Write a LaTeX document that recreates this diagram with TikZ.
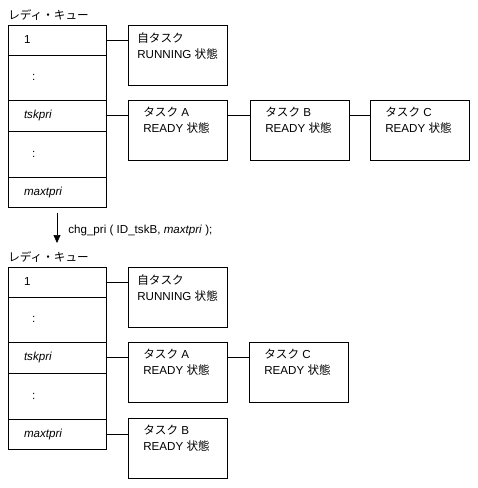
\documentclass[tikz,border=0pt]{standalone}
\usepackage{fontspec}
\setmainfont{Liberation Sans}
\newfontfamily\jp{Noto Sans CJK JP}
\usetikzlibrary{arrows.meta,calc}

\begin{document}
\begin{tikzpicture}[x=1pt, y=-1pt, line width=0.7pt,
    font=\fontsize{11.6}{16}\selectfont,
    qrow/.style={draw, anchor=north west, minimum width=98pt, text width=66pt,
      inner xsep=16pt, inner ysep=0pt, outer sep=0pt, align=left},
    taskbox/.style={draw, anchor=north west, minimum width=99pt, minimum height=60pt,
      inner sep=0pt, outer sep=0pt},
    tasktext/.style={anchor=north west, align=left, inner sep=0pt},
    qtitle/.style={anchor=west, inner sep=0pt}]
  \useasboundingbox (0,0) rectangle (478,488);

  % ready queue before the call
  \node[qtitle] (title1) at (8,15) {\jp レディ・キュー};
  \node[qrow, minimum height=30pt] (q1) at (8,25) {1};
  \node[qrow, minimum height=45pt] (q2) at (q1.south west) {\hspace*{8pt}:};
  \node[qrow, minimum height=31pt] (q3) at (q2.south west) {\textit{tskpri}};
  \node[qrow, minimum height=46pt] (q4) at (q3.south west) {\hspace*{8pt}:};
  \node[qrow, minimum height=30pt] (q5) at (q4.south west) {\textit{maxtpri}};

  \node[taskbox] (self1) at (128,25) {};
  \node[tasktext] at ([shift={(9pt,-7pt)}]self1.north west)
    {{\jp 自タスク}\\RUNNING {\jp 状態}};
  \node[taskbox] (taskA1) at (128,100) {};
  \node[tasktext] at ([shift={(15pt,-7pt)}]taskA1.north west)
    {{\jp タスク} A\\READY {\jp 状態}};
  \node[taskbox] (taskB1) at (250,100) {};
  \node[tasktext] at ([shift={(15pt,-7pt)}]taskB1.north west)
    {{\jp タスク} B\\READY {\jp 状態}};
  \node[taskbox] (taskC1) at (370,100) {};
  \node[tasktext] at ([shift={(15pt,-7pt)}]taskC1.north west)
    {{\jp タスク} C\\READY {\jp 状態}};

  \draw (q1.east) -- (q1.east -| self1.west);
  \draw (q3.east) -- (q3.east -| taskA1.west);
  \draw (q3.east -| taskA1.east) -- (q3.east -| taskB1.west);
  \draw (q3.east -| taskB1.east) -- (q3.east -| taskC1.west);

  % service call
  \coordinate (arrtop) at (57,213);
  \coordinate (arrbot) at (57,243);
  \draw[-{Triangle[length=8pt,width=7pt]}] (arrtop) -- (arrbot);
  \node[qtitle] (call) at (68,230) {chg\_pri ( ID\_tskB, \textit{maxtpri} );};

  % ready queue after the call
  \node[qtitle] (title2) at (8,257) {\jp レディ・キュー};
  \node[qrow, minimum height=30pt] (r1) at (8,267) {1};
  \node[qrow, minimum height=45pt] (r2) at (r1.south west) {\hspace*{8pt}:};
  \node[qrow, minimum height=31pt] (r3) at (r2.south west) {\textit{tskpri}};
  \node[qrow, minimum height=46pt] (r4) at (r3.south west) {\hspace*{8pt}:};
  \node[qrow, minimum height=30pt] (r5) at (r4.south west) {\textit{maxtpri}};

  \node[taskbox] (self2) at (128,267) {};
  \node[tasktext] at ([shift={(9pt,-7pt)}]self2.north west)
    {{\jp 自タスク}\\RUNNING {\jp 状態}};
  \node[taskbox] (taskA2) at (128,342) {};
  \node[tasktext] at ([shift={(15pt,-7pt)}]taskA2.north west)
    {{\jp タスク} A\\READY {\jp 状態}};
  \node[taskbox] (taskC2) at (249,342) {};
  \node[tasktext] at ([shift={(15pt,-7pt)}]taskC2.north west)
    {{\jp タスク} C\\READY {\jp 状態}};
  \node[taskbox] (taskB2) at (128,418) {};
  \node[tasktext] at ([shift={(15pt,-7pt)}]taskB2.north west)
    {{\jp タスク} B\\READY {\jp 状態}};

  \draw (r1.east) -- (r1.east -| self2.west);
  \draw (r3.east) -- (r3.east -| taskA2.west);
  \draw (r3.east -| taskA2.east) -- (r3.east -| taskC2.west);
  \draw (r5.east) -- (r5.east -| taskB2.west);
\end{tikzpicture}
\end{document}
